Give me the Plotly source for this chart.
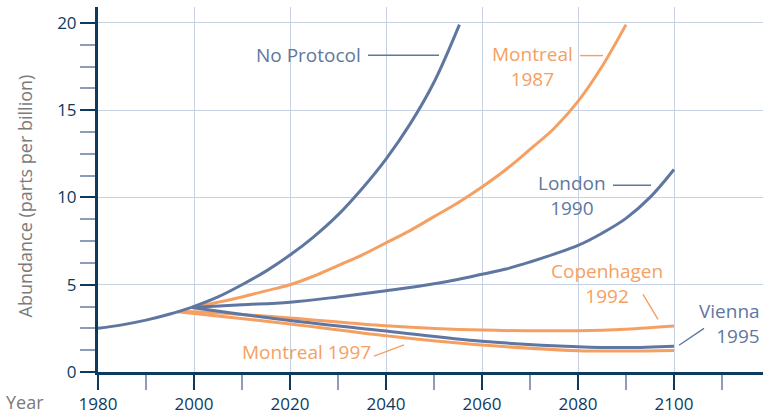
import plotly.graph_objects as go

# ---- data ----
obs_years = [1980, 1985, 1990, 1995, 1999.5]
obs_vals = [2.5, 2.7, 2.97, 3.32, 3.7]

np_years = [1999.5, 2005, 2010, 2015, 2020, 2025, 2030, 2035, 2040, 2045, 2050, 2055.3]
np_vals = [3.7, 4.3, 5.0, 5.78, 6.7, 7.76, 9.0, 10.5, 12.2, 14.2, 16.6, 19.9]

m87_years = [1999.5, 2005, 2010, 2015, 2020, 2025, 2030, 2035, 2040, 2045, 2050, 2055,
             2060, 2065, 2070, 2075, 2080, 2085, 2090]
m87_vals = [3.7, 4.0, 4.3, 4.65, 5.0, 5.5, 6.1, 6.7, 7.4, 8.1, 8.9, 9.7,
            10.6, 11.6, 12.75, 13.95, 15.5, 17.5, 19.9]

lon_years = [1999.5, 2010, 2020, 2030, 2040, 2050, 2060, 2065, 2070, 2075, 2080, 2085, 2090, 2095, 2100]
lon_vals = [3.7, 3.85, 4.0, 4.3, 4.65, 5.05, 5.6, 5.9, 6.3, 6.75, 7.25, 7.95, 8.8, 10.0, 11.6]

cop_years = [1996.5, 2000, 2020, 2040, 2060, 2080, 2090, 2100]
cop_vals = [3.47, 3.45, 3.1, 2.65, 2.4, 2.37, 2.45, 2.63]

vie_years = [1999.5, 2020, 2040, 2060, 2080, 2090, 2100]
vie_vals = [3.7, 2.95, 2.35, 1.76, 1.45, 1.4, 1.48]

m97_years = [1996.5, 2000, 2020, 2040, 2060, 2080, 2090, 2100]
m97_vals = [3.45, 3.35, 2.75, 2.08, 1.55, 1.22, 1.2, 1.23]

x_ticks = [1980, 2000, 2020, 2040, 2060, 2080, 2100]
y_ticks = [0, 5, 10, 15, 20]

BLUE = "#5f77a0"
ORANGE = "#f5a062"
NAVY = "#0d3b5f"
GRID = "#c8d1e4"
GRAY = "#7a7a7a"
FONT = "Open Sans"

# plot area in pixels
L, R, T, B = 98, 763, 7, 375
W, H = R - L, B - T

def px(x):
    return (x - L) / W

def py(y):
    return (B - y) / H

fig = go.Figure()

def add(xs, ys, color):
    fig.add_trace(go.Scatter(x=xs, y=ys, mode="lines",
                             line=dict(color=color, width=3, shape="spline", smoothing=1.0),
                             hoverinfo="skip", showlegend=False))

add(cop_years, cop_vals, ORANGE)
add(m97_years, m97_vals, ORANGE)
add(m87_years, m87_vals, ORANGE)
add(obs_years, obs_vals, BLUE)
add(np_years, np_vals, BLUE)
add(lon_years, lon_vals, BLUE)
add(vie_years, vie_vals, BLUE)

# labels
labels = [
    ("No Protocol", 308, 55, BLUE, "center", "center"),
    ("Montreal<br>1987", 532, 67, ORANGE, "center", "center"),
    ("London<br>1990", 572, 197, BLUE, "center", "center"),
    ("Copenhagen<br>1992", 607, 286, ORANGE, "center", "center"),
    ("Vienna<br>1995", 762, 326, BLUE, "right", "right"),
    ("Montreal 1997", 306, 355, ORANGE, "center", "center"),
]
for txt, x, y, col, al, xa in labels:
    fig.add_annotation(x=px(x), y=py(y), xref="paper", yref="paper",
                       text=txt, showarrow=False, font=dict(family=FONT, size=19, color=col),
                       align=al, xanchor=xa, yanchor="middle")

# leader lines
leaders = [
    (368, 55.7, 439, 55.7, BLUE),
    (580, 56, 603, 56, ORANGE),
    (613, 186.7, 651, 186.7, BLUE),
    (643, 296.7, 658, 322, ORANGE),
    (679, 348, 704, 331, BLUE),
    (374, 359, 404, 347.7, ORANGE),
]
for x0, y0, x1, y1, col in leaders:
    fig.add_shape(type="line", xref="paper", yref="paper",
                  x0=px(x0), y0=py(y0), x1=px(x1), y1=py(y1),
                  line=dict(color=col, width=1.4))

fig.add_annotation(x=px(25), y=py(405), xref="paper", yref="paper", text="Year",
                   showarrow=False, font=dict(family=FONT, size=18, color=GRAY),
                   xanchor="center", yanchor="middle")
fig.add_annotation(x=px(25), y=py(198), xref="paper", yref="paper",
                   text="Abundance (parts per billion)", textangle=-90,
                   showarrow=False, font=dict(family=FONT, size=18, color=GRAY),
                   xanchor="center", yanchor="middle")

fig.update_layout(
    width=763, height=415,
    margin=dict(l=L, r=763 - R, t=T, b=415 - B),
    plot_bgcolor="white", paper_bgcolor="white",
    font=dict(family=FONT, size=17, color=NAVY),
    xaxis=dict(range=[1980, 1980 + W / 4.8], tickmode="array", tickvals=x_ticks,
               ticktext=[str(v) for v in x_ticks],
               showgrid=True, gridcolor=GRID, gridwidth=1.2,
               showline=True, linecolor=NAVY, linewidth=3,
               ticks="outside", ticklen=15, tickwidth=2, tickcolor=NAVY,
               tickfont=dict(family=FONT, size=17, color=NAVY),
               minor=dict(dtick=10, tick0=1980, ticks="outside", ticklen=15, tickwidth=1.5,
                          tickcolor="#8d9cb8", showgrid=False),
               zeroline=False, fixedrange=True),
    yaxis=dict(range=[0, H / 17.6], tickmode="array", tickvals=y_ticks,
               showgrid=True, gridcolor=GRID, gridwidth=1.2,
               showline=True, linecolor=NAVY, linewidth=3,
               ticks="outside", ticklen=15, tickwidth=2, tickcolor=NAVY,
               tickfont=dict(family=FONT, size=17, color=NAVY),
               minor=dict(dtick=1.25, tick0=0, ticks="outside", ticklen=15, tickwidth=1.5,
                          tickcolor="#8d9cb8", showgrid=False),
               zeroline=False, fixedrange=True),
)

fig.write_html("out.html", config={"displayModeBar": False},
               post_script="document.body.style.margin='0';document.body.style.overflow='hidden';")
